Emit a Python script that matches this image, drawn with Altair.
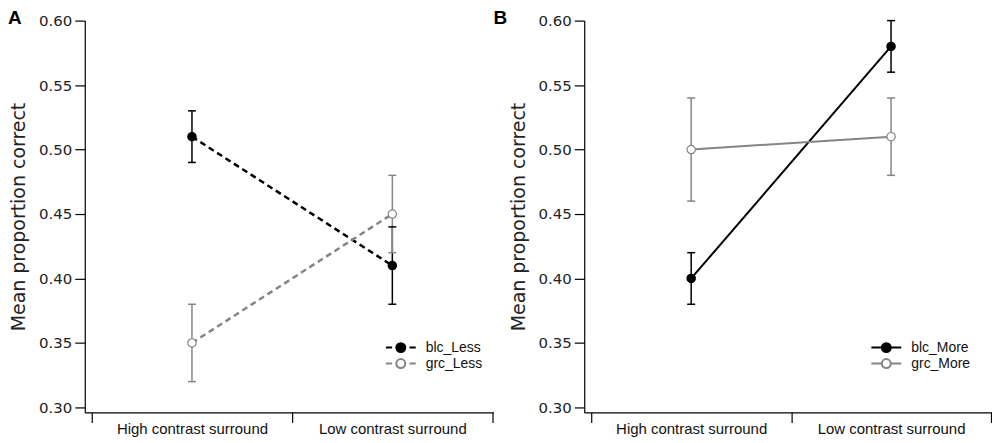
import altair as alt
import pandas as pd

conditions = ["High contrast surround", "Low contrast surround"]

# Panel A (Less)
series_a = ["blc_Less", "grc_Less"]
blc_less_mean = [0.51, 0.41]
blc_less_lo = [0.49, 0.38]
blc_less_hi = [0.53, 0.44]
grc_less_mean = [0.35, 0.45]
grc_less_lo = [0.32, 0.42]
grc_less_hi = [0.38, 0.48]

# Panel B (More)
series_b = ["blc_More", "grc_More"]
blc_more_mean = [0.40, 0.58]
blc_more_lo = [0.38, 0.56]
blc_more_hi = [0.42, 0.60]
grc_more_mean = [0.50, 0.51]
grc_more_lo = [0.46, 0.48]
grc_more_hi = [0.54, 0.54]

y_ticks = [0.30, 0.35, 0.40, 0.45, 0.50, 0.55, 0.60]

BLACK = "#000000"
GRAY = "#858585"


def make_df(names, groups):
    rows = []
    for name, (means, los, his) in zip(names, groups):
        for c, m, lo, hi in zip(conditions, means, los, his):
            rows.append({"series": name, "condition": c, "mean": m, "lo": lo, "hi": hi})
    return pd.DataFrame(rows)


df_a = make_df(series_a, [(blc_less_mean, blc_less_lo, blc_less_hi),
                          (grc_less_mean, grc_less_lo, grc_less_hi)])
df_b = make_df(series_b, [(blc_more_mean, blc_more_lo, blc_more_hi),
                          (grc_more_mean, grc_more_lo, grc_more_hi)])

PATH_DASHED = ("M-3,0H-1.75M1.75,0H3"
               "M-0.9,0A0.9,0.9 0 1,0 0.9,0A0.9,0.9 0 1,0 -0.9,0Z")
PATH_SOLID = ("M-3,0H-0.9M0.9,0H3"
              "M-0.9,0A0.9,0.9 0 1,0 0.9,0A0.9,0.9 0 1,0 -0.9,0Z")


def panel(df, series, letter, dash, path, lx, ly, width, dx):
    legend = alt.Legend(
        title=None, orient="none", legendX=lx, legendY=ly,
        symbolType=path, symbolSize=100, symbolStrokeWidth=2,
        labelOffset=18, labelFont="Liberation Sans", labelFontSize=14,
        labelColor="#111", rowPadding=-2, padding=0,
    )
    stroke = alt.Stroke("series:N", scale=alt.Scale(domain=series, range=[BLACK, GRAY]), legend=legend)
    fill = alt.Fill("series:N", scale=alt.Scale(domain=series, range=[BLACK, "white"]), legend=legend)
    x = alt.X(
        "condition:N", sort=conditions,
        scale=alt.Scale(type="band", paddingInner=0, paddingOuter=0.02, align=0.875),
        axis=alt.Axis(title=None, tickBand="extent", labelAngle=0, tickSize=10,
                      labelPadding=-1, labelFont="Liberation Sans", labelFontSize=15,
                      labelColor="#111", domainColor="black", tickColor="black",
                      domainWidth=1.2, tickWidth=1.2),
    )
    y_scale = alt.Scale(domain=[0.2961, 0.60], nice=False, zero=False)
    y_axis = alt.Axis(values=y_ticks, format=".2f", title="Mean proportion correct",
                      grid=False, tickSize=10, labelPadding=3,
                      labelFont="DejaVu Sans", labelFontSize=15, labelColor="#222",
                      titleFont="DejaVu Sans", titleFontSize=19, titleFontWeight="normal",
                      titleColor="#222", titlePadding=10,
                      domainColor="black", tickColor="black", domainWidth=1.2, tickWidth=1.2)
    base = alt.Chart(df).encode(x=x)
    line_kw = dict(strokeWidth=2.5 if dash else 2)
    if dash:
        line_kw["strokeDash"] = dash
    line = base.mark_line(**line_kw).encode(
        y=alt.Y("mean:Q", scale=y_scale, axis=y_axis), stroke=stroke)
    bars = base.mark_rule(strokeWidth=1.5).encode(y="lo:Q", y2="hi:Q", stroke=stroke)
    cap_lo = base.mark_point(shape="stroke", size=64, strokeWidth=1.5, opacity=1).encode(
        y="lo:Q", stroke=stroke)
    cap_hi = base.mark_point(shape="stroke", size=64, strokeWidth=1.5, opacity=1).encode(
        y="hi:Q", stroke=stroke)
    pts = base.mark_point(filled=True, size=70, strokeWidth=1.2, opacity=1).encode(
        y="mean:Q", stroke=stroke, fill=fill)
    return alt.layer(line, bars, cap_lo, cap_hi, pts).properties(
        width=width, height=393,
        title=alt.TitleParams(letter, anchor="start", frame="group", dx=dx, offset=-14,
                              font="Liberation Sans", fontSize=19, fontWeight="bold",
                              color="black"),
    )


pa = panel(df_a, series_a, "A", [6, 4], PATH_DASHED, 310, 321, 410, -77)
pb = panel(df_b, series_b, "B", None, PATH_SOLID, 296, 321, 409, -91)

chart = (
    alt.hconcat(pa, pb, spacing=0)
    .resolve_scale(stroke="independent", fill="independent")
    .resolve_legend(stroke="independent", fill="independent")
    .properties(padding=0)
    .configure_view(stroke=None)
)

chart.save("out.html", embed_options={"renderer": "svg", "actions": False})
